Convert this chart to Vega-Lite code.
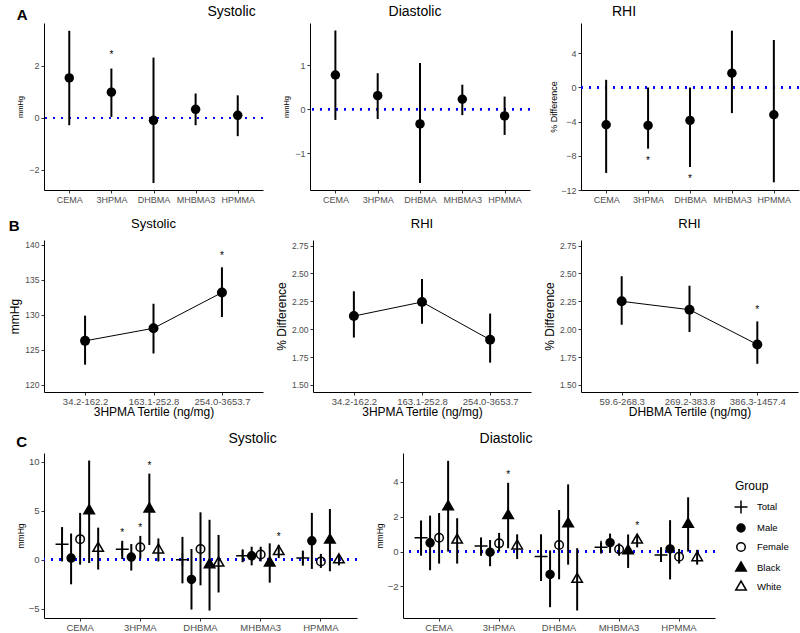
{
  "$schema": "https://vega.github.io/schema/vega-lite/v6.json",
  "padding": {"left": 8, "top": 5, "right": 0, "bottom": 0},
  "spacing": 14,
  "config": {
    "font": "Liberation Sans",
    "view": {"stroke": null},
    "axis": {"grid": false, "domainColor": "black", "domainWidth": 1, "tickColor": "#333333", "tickSize": 3, "tickWidth": 1, "labelColor": "#4D4D4D", "titleColor": "black", "titleFontWeight": "normal", "labelPadding": 2, "titlePadding": 3, "labelFont": "Liberation Sans", "titleFont": "Liberation Sans", "labelOverlap": false},
    "title": {"fontWeight": "normal", "fontSize": 14, "color": "black", "frame": "group", "offset": 4, "font": "Liberation Sans"}
  },
  "datasets": {
    "a": [
      {"outcome": "Systolic", "metab": "CEMA", "est": 1.54, "lo": -0.28, "hi": 3.35, "sig": false},
      {"outcome": "Systolic", "metab": "3HPMA", "est": 0.99, "lo": 0.04, "hi": 1.9, "sig": true},
      {"outcome": "Systolic", "metab": "DHBMA", "est": -0.09, "lo": -2.5, "hi": 2.32, "sig": false},
      {"outcome": "Systolic", "metab": "MHBMA3", "est": 0.33, "lo": -0.28, "hi": 0.94, "sig": false},
      {"outcome": "Systolic", "metab": "HPMMA", "est": 0.1, "lo": -0.7, "hi": 0.87, "sig": false},
      {"outcome": "Diastolic", "metab": "CEMA", "est": 0.78, "lo": -0.24, "hi": 1.79, "sig": false},
      {"outcome": "Diastolic", "metab": "3HPMA", "est": 0.31, "lo": -0.22, "hi": 0.82, "sig": false},
      {"outcome": "Diastolic", "metab": "DHBMA", "est": -0.33, "lo": -1.67, "hi": 1.05, "sig": false},
      {"outcome": "Diastolic", "metab": "MHBMA3", "est": 0.23, "lo": -0.13, "hi": 0.56, "sig": false},
      {"outcome": "Diastolic", "metab": "HPMMA", "est": -0.15, "lo": -0.58, "hi": 0.29, "sig": false},
      {"outcome": "RHI", "metab": "CEMA", "est": -4.36, "lo": -10.0, "hi": 0.9, "sig": false},
      {"outcome": "RHI", "metab": "3HPMA", "est": -4.44, "lo": -7.16, "hi": 0.0, "sig": true},
      {"outcome": "RHI", "metab": "DHBMA", "est": -3.85, "lo": -9.3, "hi": 0.0, "sig": true},
      {"outcome": "RHI", "metab": "MHBMA3", "est": 1.67, "lo": -3.0, "hi": 6.65, "sig": false},
      {"outcome": "RHI", "metab": "HPMMA", "est": -3.19, "lo": -11.1, "hi": 5.56, "sig": false}
    ],
    "b": [
      {"panel": "sys3", "tertile": "34.2-162.2", "t": 1, "est": 126.3, "lo": 122.9, "hi": 129.9, "sig": false},
      {"panel": "sys3", "tertile": "163.1-252.8", "t": 2, "est": 128.1, "lo": 124.5, "hi": 131.6, "sig": false},
      {"panel": "sys3", "tertile": "254.0-3653.7", "t": 3, "est": 133.2, "lo": 129.7, "hi": 136.8, "sig": true},
      {"panel": "rhi3", "tertile": "34.2-162.2", "t": 1, "est": 2.118, "lo": 1.925, "hi": 2.34, "sig": false},
      {"panel": "rhi3", "tertile": "163.1-252.8", "t": 2, "est": 2.244, "lo": 2.05, "hi": 2.45, "sig": false},
      {"panel": "rhi3", "tertile": "254.0-3653.7", "t": 3, "est": 1.905, "lo": 1.70, "hi": 2.14, "sig": false},
      {"panel": "rhid", "tertile": "59.6-268.3", "t": 1, "est": 2.25, "lo": 2.04, "hi": 2.475, "sig": false},
      {"panel": "rhid", "tertile": "269.2-383.8", "t": 2, "est": 2.175, "lo": 1.975, "hi": 2.39, "sig": false},
      {"panel": "rhid", "tertile": "386.3-1457.4", "t": 3, "est": 1.863, "lo": 1.69, "hi": 2.07, "sig": true}
    ],
    "c": [
      {"outcome": "Systolic", "metab": "CEMA", "group": "Total", "est": 1.57, "lo": -0.17, "hi": 3.33, "sig": false},
      {"outcome": "Systolic", "metab": "CEMA", "group": "Male", "est": 0.17, "lo": -2.5, "hi": 2.67, "sig": false},
      {"outcome": "Systolic", "metab": "CEMA", "group": "Female", "est": 2.1, "lo": -0.5, "hi": 4.77, "sig": false},
      {"outcome": "Systolic", "metab": "CEMA", "group": "Black", "est": 5.0, "lo": -0.33, "hi": 10.1, "sig": false},
      {"outcome": "Systolic", "metab": "CEMA", "group": "White", "est": 1.17, "lo": -1.0, "hi": 3.27, "sig": false},
      {"outcome": "Systolic", "metab": "3HPMA", "group": "Total", "est": 1.07, "lo": 0.07, "hi": 1.93, "sig": true},
      {"outcome": "Systolic", "metab": "3HPMA", "group": "Male", "est": 0.27, "lo": -1.1, "hi": 1.6, "sig": false},
      {"outcome": "Systolic", "metab": "3HPMA", "group": "Female", "est": 1.27, "lo": 0.1, "hi": 2.43, "sig": true},
      {"outcome": "Systolic", "metab": "3HPMA", "group": "Black", "est": 5.17, "lo": 1.5, "hi": 8.77, "sig": true},
      {"outcome": "Systolic", "metab": "3HPMA", "group": "White", "est": 1.0, "lo": -0.17, "hi": 2.17, "sig": false},
      {"outcome": "Systolic", "metab": "DHBMA", "group": "Total", "est": 0.0, "lo": -2.4, "hi": 2.33, "sig": false},
      {"outcome": "Systolic", "metab": "DHBMA", "group": "Male", "est": -2.0, "lo": -5.07, "hi": 1.1, "sig": false},
      {"outcome": "Systolic", "metab": "DHBMA", "group": "Female", "est": 1.1, "lo": -2.6, "hi": 4.83, "sig": false},
      {"outcome": "Systolic", "metab": "DHBMA", "group": "Black", "est": -0.5, "lo": -5.17, "hi": 4.07, "sig": false},
      {"outcome": "Systolic", "metab": "DHBMA", "group": "White", "est": -0.33, "lo": -3.33, "hi": 2.53, "sig": false},
      {"outcome": "Systolic", "metab": "MHBMA3", "group": "Total", "est": 0.4, "lo": -0.23, "hi": 1.0, "sig": false},
      {"outcome": "Systolic", "metab": "MHBMA3", "group": "Male", "est": 0.4, "lo": -0.57, "hi": 1.33, "sig": false},
      {"outcome": "Systolic", "metab": "MHBMA3", "group": "Female", "est": 0.53, "lo": -0.17, "hi": 1.33, "sig": false},
      {"outcome": "Systolic", "metab": "MHBMA3", "group": "Black", "est": -0.33, "lo": -2.33, "hi": 1.67, "sig": false},
      {"outcome": "Systolic", "metab": "MHBMA3", "group": "White", "est": 0.83, "lo": 0.17, "hi": 1.5, "sig": true},
      {"outcome": "Systolic", "metab": "HPMMA", "group": "Total", "est": 0.17, "lo": -0.6, "hi": 0.93, "sig": false},
      {"outcome": "Systolic", "metab": "HPMMA", "group": "Male", "est": 1.93, "lo": -0.93, "hi": 4.77, "sig": false},
      {"outcome": "Systolic", "metab": "HPMMA", "group": "Female", "est": -0.17, "lo": -0.83, "hi": 0.6, "sig": false},
      {"outcome": "Systolic", "metab": "HPMMA", "group": "Black", "est": 2.0, "lo": -1.17, "hi": 5.17, "sig": false},
      {"outcome": "Systolic", "metab": "HPMMA", "group": "White", "est": 0.0, "lo": -0.57, "hi": 0.5, "sig": false},
      {"outcome": "Diastolic", "metab": "CEMA", "group": "Total", "est": 0.79, "lo": -0.24, "hi": 1.78, "sig": false},
      {"outcome": "Diastolic", "metab": "CEMA", "group": "Male", "est": 0.5, "lo": -1.07, "hi": 2.06, "sig": false},
      {"outcome": "Diastolic", "metab": "CEMA", "group": "Female", "est": 0.79, "lo": -0.69, "hi": 2.21, "sig": false},
      {"outcome": "Diastolic", "metab": "CEMA", "group": "Black", "est": 2.57, "lo": 0.0, "hi": 5.2, "sig": false},
      {"outcome": "Diastolic", "metab": "CEMA", "group": "White", "est": 0.66, "lo": -0.69, "hi": 1.91, "sig": false},
      {"outcome": "Diastolic", "metab": "3HPMA", "group": "Total", "est": 0.32, "lo": -0.24, "hi": 0.81, "sig": false},
      {"outcome": "Diastolic", "metab": "3HPMA", "group": "Male", "est": -0.04, "lo": -0.84, "hi": 0.66, "sig": false},
      {"outcome": "Diastolic", "metab": "3HPMA", "group": "Female", "est": 0.47, "lo": 0.0, "hi": 1.07, "sig": false},
      {"outcome": "Diastolic", "metab": "3HPMA", "group": "Black", "est": 2.06, "lo": 0.19, "hi": 3.94, "sig": true},
      {"outcome": "Diastolic", "metab": "3HPMA", "group": "White", "est": 0.32, "lo": -0.43, "hi": 0.99, "sig": false},
      {"outcome": "Diastolic", "metab": "DHBMA", "group": "Total", "est": -0.28, "lo": -1.69, "hi": 0.99, "sig": false},
      {"outcome": "Diastolic", "metab": "DHBMA", "group": "Male", "est": -1.31, "lo": -3.19, "hi": 0.06, "sig": false},
      {"outcome": "Diastolic", "metab": "DHBMA", "group": "Female", "est": 0.38, "lo": -1.59, "hi": 2.38, "sig": false},
      {"outcome": "Diastolic", "metab": "DHBMA", "group": "Black", "est": 1.59, "lo": -0.75, "hi": 3.85, "sig": false},
      {"outcome": "Diastolic", "metab": "DHBMA", "group": "White", "est": -1.59, "lo": -3.38, "hi": 0.19, "sig": false},
      {"outcome": "Diastolic", "metab": "MHBMA3", "group": "Total", "est": 0.24, "lo": -0.06, "hi": 0.51, "sig": false},
      {"outcome": "Diastolic", "metab": "MHBMA3", "group": "Male", "est": 0.51, "lo": -0.06, "hi": 1.03, "sig": false},
      {"outcome": "Diastolic", "metab": "MHBMA3", "group": "Female", "est": 0.13, "lo": -0.24, "hi": 0.47, "sig": false},
      {"outcome": "Diastolic", "metab": "MHBMA3", "group": "Black", "est": 0.04, "lo": -0.94, "hi": 0.98, "sig": false},
      {"outcome": "Diastolic", "metab": "MHBMA3", "group": "White", "est": 0.66, "lo": 0.24, "hi": 0.98, "sig": true},
      {"outcome": "Diastolic", "metab": "HPMMA", "group": "Total", "est": -0.2, "lo": -0.6, "hi": 0.25, "sig": false},
      {"outcome": "Diastolic", "metab": "HPMMA", "group": "Male", "est": 0.15, "lo": -1.6, "hi": 1.8, "sig": false},
      {"outcome": "Diastolic", "metab": "HPMMA", "group": "Female", "est": -0.3, "lo": -0.69, "hi": 0.15, "sig": false},
      {"outcome": "Diastolic", "metab": "HPMMA", "group": "Black", "est": 1.56, "lo": 0.0, "hi": 3.11, "sig": false},
      {"outcome": "Diastolic", "metab": "HPMMA", "group": "White", "est": -0.35, "lo": -0.75, "hi": 0.1, "sig": false}
    ]
  },
  "vconcat": [
    {
      "title": {"text": "A", "anchor": "start", "frame": "bounds", "offset": -18, "fontWeight": "bold", "fontSize": 15},
      "spacing": 18,
      "hconcat": [
        {
          "width": 219, "height": 167,
          "data": {"name": "a"},
          "transform": [{"filter": "datum.outcome === 'Systolic'"}],
          "title": {"text": "Systolic", "dx": 78},
          "layer": [
            {"mark": {"type": "rule", "color": "#0000FF", "strokeDash": [2, 6], "strokeWidth": 2}, "encoding": {"y": {"datum": 0, "type": "quantitative"}}},
            {"mark": {"type": "rule", "color": "black", "strokeWidth": 2},
             "encoding": {
               "x": {"field": "metab", "type": "nominal", "scale": {"type": "point", "padding": 0.6, "domain": ["CEMA", "3HPMA", "DHBMA", "MHBMA3", "HPMMA"]}, "axis": {"title": null, "labelAngle": 0, "labelFontSize": 9}},
               "y": {"field": "lo", "type": "quantitative", "title": "mmHg", "scale": {"domain": [-2.77, 3.65], "nice": false, "zero": false}, "axis": {"values": [-2, 0, 2], "tickCount": 10, "format": "d", "labelFontSize": 9, "titleFontSize": 7.5, "titlePadding": 4}},
               "y2": {"field": "hi"}}},
            {"mark": {"type": "circle", "color": "black", "size": 90, "opacity": 1},
             "encoding": {"x": {"field": "metab", "type": "nominal"}, "y": {"field": "est", "type": "quantitative", "title": "mmHg"}}},
            {"transform": [{"filter": "datum.sig"}], "mark": {"type": "text", "text": "*", "dy": -14, "fontSize": 10, "fill": "#000000"},
             "encoding": {"x": {"field": "metab", "type": "nominal"}, "y": {"field": "hi", "type": "quantitative", "title": "mmHg"}}}
          ]
        },
        {
          "width": 220, "height": 167,
          "data": {"name": "a"},
          "transform": [{"filter": "datum.outcome === 'Diastolic'"}],
          "title": {"text": "Diastolic", "dx": -5},
          "layer": [
            {"mark": {"type": "rule", "color": "#0000FF", "strokeDash": [2, 6], "strokeWidth": 2}, "encoding": {"y": {"datum": 0, "type": "quantitative"}}},
            {"mark": {"type": "rule", "color": "black", "strokeWidth": 2},
             "encoding": {
               "x": {"field": "metab", "type": "nominal", "scale": {"type": "point", "padding": 0.6, "domain": ["CEMA", "3HPMA", "DHBMA", "MHBMA3", "HPMMA"]}, "axis": {"title": null, "labelAngle": 0, "labelFontSize": 9}},
               "y": {"field": "lo", "type": "quantitative", "title": "mmHg", "scale": {"domain": [-1.83, 1.96], "nice": false, "zero": false}, "axis": {"values": [-1, 0, 1], "tickCount": 10, "format": "d", "labelFontSize": 9, "titleFontSize": 7.5, "titlePadding": 4}},
               "y2": {"field": "hi"}}},
            {"mark": {"type": "circle", "color": "black", "size": 90, "opacity": 1},
             "encoding": {"x": {"field": "metab", "type": "nominal"}, "y": {"field": "est", "type": "quantitative", "title": "mmHg"}}}
          ]
        },
        {
          "width": 218, "height": 167,
          "data": {"name": "a"},
          "transform": [{"filter": "datum.outcome === 'RHI'"}],
          "title": {"text": "RHI", "dx": -66},
          "layer": [
            {"mark": {"type": "rule", "color": "#0000FF", "strokeDash": [2, 6], "strokeWidth": 2}, "encoding": {"y": {"datum": 0, "type": "quantitative"}}},
            {"mark": {"type": "rule", "color": "black", "strokeWidth": 2},
             "encoding": {
               "x": {"field": "metab", "type": "nominal", "scale": {"type": "point", "padding": 0.6, "domain": ["CEMA", "3HPMA", "DHBMA", "MHBMA3", "HPMMA"]}, "axis": {"title": null, "labelAngle": 0, "labelFontSize": 9}},
               "y": {"field": "lo", "type": "quantitative", "title": "% Difference", "scale": {"domain": [-12, 7.55], "nice": false, "zero": false}, "axis": {"values": [-12, -8, -4, 0, 4], "tickCount": 10, "format": "d", "labelFontSize": 9, "titleFontSize": 9, "titlePadding": 2}},
               "y2": {"field": "hi"}}},
            {"mark": {"type": "circle", "color": "black", "size": 90, "opacity": 1},
             "encoding": {"x": {"field": "metab", "type": "nominal"}, "y": {"field": "est", "type": "quantitative", "title": "% Difference"}}},
            {"transform": [{"filter": "datum.sig"}], "mark": {"type": "text", "text": "*", "dy": 12, "fontSize": 10, "fill": "#000000"},
             "encoding": {"x": {"field": "metab", "type": "nominal"}, "y": {"field": "lo", "type": "quantitative", "title": "% Difference"}}}
          ]
        }
      ]
    },
    {
      "title": {"text": "B", "anchor": "start", "frame": "bounds", "offset": -16, "fontWeight": "bold", "fontSize": 15},
      "spacing": 12,
      "hconcat": [
        {
          "width": 219, "height": 152,
          "data": {"name": "b"},
          "transform": [{"filter": "datum.panel === 'sys3'"}],
          "title": {"text": "Systolic", "fontSize": 13, "offset": 9},
          "layer": [
            {"mark": {"type": "rule", "color": "black", "strokeWidth": 2},
             "encoding": {
               "x": {"field": "tertile", "type": "nominal", "scale": {"type": "point", "padding": 0.6, "domain": ["34.2-162.2", "163.1-252.8", "254.0-3653.7"]}, "axis": {"title": "3HPMA Tertile (ng/mg)", "labelAngle": 0, "labelFontSize": 9.5, "titleFontSize": 12, "labelPadding": 1, "titlePadding": 1}},
               "y": {"field": "lo", "type": "quantitative", "title": "mmHg", "scale": {"domain": [119, 140.7], "nice": false, "zero": false}, "axis": {"values": [120, 125, 130, 135, 140], "tickCount": 10, "format": "d", "labelOverlap": false, "labelFontSize": 8.5, "titleFontSize": 12}},
               "y2": {"field": "hi"}}},
            {"mark": {"type": "line", "color": "black", "strokeWidth": 1},
             "encoding": {"x": {"field": "tertile", "type": "nominal"}, "y": {"field": "est", "type": "quantitative", "title": "mmHg"}, "order": {"field": "t"}}},
            {"mark": {"type": "circle", "color": "black", "size": 100, "opacity": 1},
             "encoding": {"x": {"field": "tertile", "type": "nominal"}, "y": {"field": "est", "type": "quantitative", "title": "mmHg"}}},
            {"transform": [{"filter": "datum.sig"}], "mark": {"type": "text", "text": "*", "dy": -11, "fontSize": 10, "fill": "#000000"},
             "encoding": {"x": {"field": "tertile", "type": "nominal"}, "y": {"field": "hi", "type": "quantitative", "title": "mmHg"}}}
          ]
        },
        {
          "width": 218, "height": 152,
          "data": {"name": "b"},
          "transform": [{"filter": "datum.panel === 'rhi3'"}],
          "title": {"text": "RHI", "fontSize": 13, "offset": 9},
          "layer": [
            {"mark": {"type": "rule", "color": "black", "strokeWidth": 2},
             "encoding": {
               "x": {"field": "tertile", "type": "nominal", "scale": {"type": "point", "padding": 0.6, "domain": ["34.2-162.2", "163.1-252.8", "254.0-3653.7"]}, "axis": {"title": "3HPMA Tertile (ng/mg)", "labelAngle": 0, "labelFontSize": 9.5, "titleFontSize": 12, "labelPadding": 1, "titlePadding": 1}},
               "y": {"field": "lo", "type": "quantitative", "title": "% Difference", "scale": {"domain": [1.437, 2.8], "nice": false, "zero": false}, "axis": {"values": [1.5, 1.75, 2.0, 2.25, 2.5, 2.75], "tickCount": 10, "format": ".2f", "labelOverlap": false, "labelFontSize": 8.5, "titleFontSize": 12}},
               "y2": {"field": "hi"}}},
            {"mark": {"type": "line", "color": "black", "strokeWidth": 1},
             "encoding": {"x": {"field": "tertile", "type": "nominal"}, "y": {"field": "est", "type": "quantitative", "title": "% Difference"}, "order": {"field": "t"}}},
            {"mark": {"type": "circle", "color": "black", "size": 100, "opacity": 1},
             "encoding": {"x": {"field": "tertile", "type": "nominal"}, "y": {"field": "est", "type": "quantitative", "title": "% Difference"}}}
          ]
        },
        {
          "width": 217, "height": 152,
          "data": {"name": "b"},
          "transform": [{"filter": "datum.panel === 'rhid'"}],
          "title": {"text": "RHI", "fontSize": 13, "offset": 9},
          "layer": [
            {"mark": {"type": "rule", "color": "black", "strokeWidth": 2},
             "encoding": {
               "x": {"field": "tertile", "type": "nominal", "scale": {"type": "point", "padding": 0.6, "domain": ["59.6-268.3", "269.2-383.8", "386.3-1457.4"]}, "axis": {"title": "DHBMA Tertile (ng/mg)", "labelAngle": 0, "labelFontSize": 9.5, "titleFontSize": 12, "labelPadding": 1, "titlePadding": 1}},
               "y": {"field": "lo", "type": "quantitative", "title": "% Difference", "scale": {"domain": [1.437, 2.8], "nice": false, "zero": false}, "axis": {"values": [1.5, 1.75, 2.0, 2.25, 2.5, 2.75], "tickCount": 10, "format": ".2f", "labelOverlap": false, "labelFontSize": 8.5, "titleFontSize": 12}},
               "y2": {"field": "hi"}}},
            {"mark": {"type": "line", "color": "black", "strokeWidth": 1},
             "encoding": {"x": {"field": "tertile", "type": "nominal"}, "y": {"field": "est", "type": "quantitative", "title": "% Difference"}, "order": {"field": "t"}}},
            {"mark": {"type": "circle", "color": "black", "size": 100, "opacity": 1},
             "encoding": {"x": {"field": "tertile", "type": "nominal"}, "y": {"field": "est", "type": "quantitative", "title": "% Difference"}}},
            {"transform": [{"filter": "datum.sig"}], "mark": {"type": "text", "text": "*", "dy": -11, "fontSize": 10, "fill": "#000000"},
             "encoding": {"x": {"field": "tertile", "type": "nominal"}, "y": {"field": "hi", "type": "quantitative", "title": "% Difference"}}}
          ]
        }
      ]
    },
    {
      "title": {"text": "C", "anchor": "start", "frame": "bounds", "offset": -18, "fontWeight": "bold", "fontSize": 15},
      "spacing": 17,
      "resolve": {"scale": {"shape": "independent", "fill": "independent"}, "legend": {"shape": "independent", "fill": "independent"}},
      "hconcat": [
        {
          "width": 313, "height": 165,
          "data": {"name": "c"},
          "transform": [{"filter": "datum.outcome === 'Systolic'"}],
          "title": {"text": "Systolic", "dx": 52, "offset": 7},
          "layer": [
            {"mark": {"type": "rule", "color": "#0000FF", "strokeDash": [2, 6], "strokeWidth": 2}, "encoding": {"y": {"datum": 0, "type": "quantitative"}}},
            {"mark": {"type": "rule", "color": "black", "strokeWidth": 2},
             "encoding": {
               "x": {"field": "metab", "type": "nominal", "scale": {"type": "band", "paddingInner": 0, "paddingOuter": 0.1, "domain": ["CEMA", "3HPMA", "DHBMA", "MHBMA3", "HPMMA"]}, "axis": {"title": null, "labelAngle": 0, "labelFontSize": 9.5, "labelPadding": 1}},
               "xOffset": {"field": "group", "type": "nominal", "scale": {"domain": ["Total", "Male", "Female", "Black", "White"], "paddingInner": 0, "paddingOuter": 0.8333}},
               "y": {"field": "lo", "type": "quantitative", "title": "mmHg", "scale": {"domain": [-5.93, 10.87], "nice": false, "zero": false}, "axis": {"values": [-5, 0, 5, 10], "tickCount": 10, "format": "d", "labelFontSize": 9.5, "titleFontSize": 8.5}},
               "y2": {"field": "hi"}}},
            {"mark": {"type": "point", "stroke": "black", "strokeWidth": 1.5, "size": 100, "opacity": 1},
             "encoding": {
               "x": {"field": "metab", "type": "nominal"},
               "xOffset": {"field": "group", "type": "nominal"},
               "y": {"field": "est", "type": "quantitative", "title": "mmHg"},
               "shape": {"field": "group", "type": "nominal", "title": "Group", "legend": null, "scale": {"domain": ["Total", "Male", "Female", "Black", "White"], "range": ["M-1.3,0L1.3,0M0,-1.3L0,1.3", "M0.8,0A0.8,0.8,0,1,1,-0.8,0A0.8,0.8,0,1,1,0.8,0Z", "M0.85,0A0.85,0.85,0,1,1,-0.85,0A0.85,0.85,0,1,1,0.85,0Z", "M0,-1.2L1.05,0.6L-1.05,0.6Z", "M0,-1.2L1.05,0.6L-1.05,0.6Z"]}},
               "fill": {"field": "group", "type": "nominal", "title": "Group", "legend": null, "scale": {"domain": ["Total", "Male", "Female", "Black", "White"], "range": ["transparent", "black", "transparent", "black", "transparent"]}}}},
            {"transform": [{"filter": "datum.sig"}], "mark": {"type": "text", "text": "*", "dy": -8, "fontSize": 10, "fill": "#000000"},
             "encoding": {"x": {"field": "metab", "type": "nominal"}, "xOffset": {"field": "group", "type": "nominal"}, "y": {"field": "hi", "type": "quantitative", "title": "mmHg"}}}
          ]
        },
        {
          "width": 312, "height": 165,
          "data": {"name": "c"},
          "transform": [{"filter": "datum.outcome === 'Diastolic'"}],
          "title": {"text": "Diastolic", "dx": -53, "offset": 7},
          "layer": [
            {"mark": {"type": "rule", "color": "#0000FF", "strokeDash": [2, 6], "strokeWidth": 2}, "encoding": {"y": {"datum": 0, "type": "quantitative"}}},
            {"mark": {"type": "rule", "color": "black", "strokeWidth": 2},
             "encoding": {
               "x": {"field": "metab", "type": "nominal", "scale": {"type": "band", "paddingInner": 0, "paddingOuter": 0.1, "domain": ["CEMA", "3HPMA", "DHBMA", "MHBMA3", "HPMMA"]}, "axis": {"title": null, "labelAngle": 0, "labelFontSize": 9.5, "labelPadding": 1}},
               "xOffset": {"field": "group", "type": "nominal", "scale": {"domain": ["Total", "Male", "Female", "Black", "White"], "paddingInner": 0, "paddingOuter": 0.8333}},
               "y": {"field": "lo", "type": "quantitative", "title": "mmHg", "scale": {"domain": [-3.81, 5.65], "nice": false, "zero": false}, "axis": {"values": [-2, 0, 2, 4], "tickCount": 10, "format": "d", "labelFontSize": 9.5, "titleFontSize": 8.5}},
               "y2": {"field": "hi"}}},
            {"mark": {"type": "point", "stroke": "black", "strokeWidth": 1.5, "size": 100, "opacity": 1},
             "encoding": {
               "x": {"field": "metab", "type": "nominal"},
               "xOffset": {"field": "group", "type": "nominal"},
               "y": {"field": "est", "type": "quantitative", "title": "mmHg"},
               "shape": {"field": "group", "type": "nominal", "title": "Group", "scale": {"domain": ["Total", "Male", "Female", "Black", "White"], "range": ["M-1.3,0L1.3,0M0,-1.3L0,1.3", "M0.8,0A0.8,0.8,0,1,1,-0.8,0A0.8,0.8,0,1,1,0.8,0Z", "M0.85,0A0.85,0.85,0,1,1,-0.85,0A0.85,0.85,0,1,1,0.85,0Z", "M0,-1.2L1.05,0.6L-1.05,0.6Z", "M0,-1.2L1.05,0.6L-1.05,0.6Z"]},
                 "legend": {"orient": "none", "legendX": 332, "legendY": 28, "padding": 0, "titleFontSize": 12, "titleFontWeight": "normal", "titleColor": "black", "titlePadding": 8, "labelFontSize": 9.5, "labelColor": "black", "symbolSize": 100, "rowPadding": 4, "labelOffset": 10,
                   "encode": {"symbols": {"update": {"stroke": {"value": "black"}, "strokeWidth": {"value": 1.5}, "opacity": {"value": 1}}}}}},
               "fill": {"field": "group", "type": "nominal", "title": "Group", "scale": {"domain": ["Total", "Male", "Female", "Black", "White"], "range": ["transparent", "black", "transparent", "black", "transparent"]},
                 "legend": {"orient": "none", "legendX": 332, "legendY": 28, "padding": 0, "titleFontSize": 12, "titleFontWeight": "normal", "titleColor": "black", "titlePadding": 8, "labelFontSize": 9.5, "labelColor": "black", "symbolSize": 100, "rowPadding": 4, "labelOffset": 10,
                   "encode": {"symbols": {"update": {"stroke": {"value": "black"}, "strokeWidth": {"value": 1.5}, "opacity": {"value": 1}}}}}}}},
            {"transform": [{"filter": "datum.sig"}], "mark": {"type": "text", "text": "*", "dy": -8, "fontSize": 10, "fill": "#000000"},
             "encoding": {"x": {"field": "metab", "type": "nominal"}, "xOffset": {"field": "group", "type": "nominal"}, "y": {"field": "hi", "type": "quantitative", "title": "mmHg"}}}
          ]
        }
      ]
    }
  ]
}
